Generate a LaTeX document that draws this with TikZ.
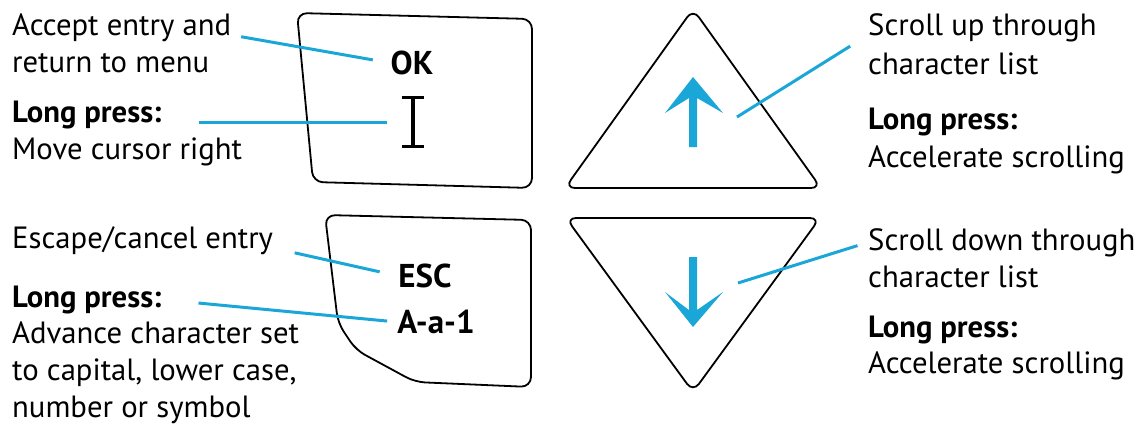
\documentclass[tikz,border=0pt]{standalone}
\usepackage{fontspec}
\setmainfont{PT Sans}
\definecolor{keyblue}{HTML}{1AA7D7}
\tikzset{
  txt/.style={anchor=base west, inner sep=0pt, font=\fontsize{30.7}{36}\selectfont},
  lbl/.style={inner sep=0pt, font=\fontsize{33}{36}\selectfont\bfseries},
  keyline/.style={draw=black, line width=1.8pt, rounded corners=10pt},
  leader/.style={draw=keyblue, line width=3pt},
}
\begin{document}
\begin{tikzpicture}[x=1pt,y=-1pt]
\useasboundingbox (0,0) rectangle (1145,424);
\draw[keyline] (297,13) -- (532,19) -- (532,188) -- (313,182) -- cycle;
\draw[keyline] (325,215) -- (531,220) -- (531,387) -- (415,382) -- (356,350) -- (338,323) -- cycle;
\draw[keyline] (693,9) -- (821,188) -- (565,188) -- cycle;
\draw[keyline] (566,218) -- (820,218) -- (693,392) -- cycle;
\node[lbl] (ok) at (412,63) {OK};
\node[inner sep=0pt, minimum width=22pt, minimum height=48pt] (cursor) at (413,122) {};
\draw[line width=3.2pt] (cursor.north west) -- (cursor.north east) (cursor.north) -- (cursor.south) (cursor.south west) -- (cursor.south east);
\node[lbl] (esc) at (425,276) {ESC};
\node[lbl] (aa1) at (436,322) {A-a-1};
\fill[keyblue] (693,77) -- (723,113) -- (697,98) -- (697,147) -- (689,147) -- (689,98) -- (665,113) -- cycle;
\fill[keyblue] (693,327) -- (723,292) -- (697,310) -- (697,257) -- (689,257) -- (689,310) -- (665,292) -- cycle;
\coordinate (upArrow) at (737,117);
\coordinate (downArrow) at (738,283);
\node[txt] (ok1) at (12,35) {Accept entry and};
\node[txt] (ok2) at (12,72) {return to menu};
\node[txt] (ok3) at (12,122) {\textbf{Long press:}};
\node[txt] (ok4) at (12,159) {Move cursor right};
\node[txt] (esc1) at (12,248) {Escape/cancel entry};
\node[txt] (esc2) at (12,307) {\textbf{Long press:}};
\node[txt] (esc3) at (12,343) {Advance character set};
\node[txt] (esc4) at (12,380) {to capital, lower case,};
\node[txt] (esc5) at (12,417) {number or symbol};
\node[txt] (up1) at (868,35) {Scroll up through};
\node[txt] (up2) at (868,74) {character list};
\node[txt] (up3) at (868,129) {\textbf{Long press:}};
\node[txt] (up4) at (868,167) {Accelerate scrolling};
\node[txt] (dn1) at (868,250) {Scroll down through};
\node[txt] (dn2) at (868,287) {character list};
\node[txt] (dn3) at (868,337) {\textbf{Long press:}};
\node[txt] (dn4) at (868,373) {Accelerate scrolling};
\draw[leader, shorten <=10pt, shorten >=18pt] (ok1.base east) -- (ok.west);
\draw[leader, shorten <=37pt, shorten >=15pt] (ok3.base east) -- (cursor.west);
\draw[leader, shorten <=22pt, shorten >=19pt] (esc1.base east) -- (esc.west);
\draw[leader, shorten <=37pt, shorten >=10pt] (esc2.east) -- (aa1.west);
\draw[leader, shorten >=21pt] (upArrow) -- (up1.base west);
\draw[leader, shorten >=11pt] (downArrow) -- (dn1.west);
\end{tikzpicture}
\end{document}
